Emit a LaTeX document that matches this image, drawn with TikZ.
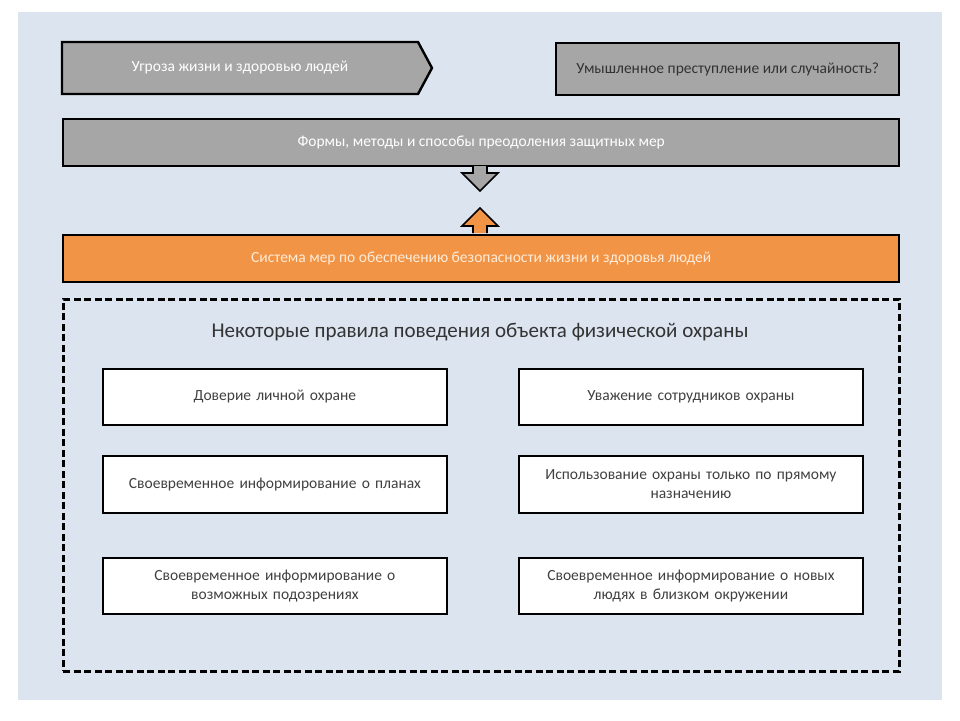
\documentclass[tikz,border=0pt]{standalone}
\usepackage{fontspec}
\setmainfont{Carlito}
\definecolor{bgpanel}{RGB}{220,228,240}
\definecolor{boxgray}{RGB}{166,166,166}
\definecolor{boxorange}{RGB}{242,148,70}
\begin{document}
\begin{tikzpicture}[x=1pt,y=-1pt,
  graybox/.style={draw=black,line width=2.4pt,fill=boxgray,text=white},
  orangebox/.style={draw=black,line width=2.4pt,fill=boxorange,text=white!85!orange},
  rulebox/.style={draw=black,line width=1.8pt,fill=white,text=black!75,align=center,font=\fontsize{15.5}{19}\selectfont},
  lbl/.style={font=\fontsize{15.5}{18}\selectfont}]
\useasboundingbox (0,0) rectangle (960,720);
\fill[white] (0,0) rectangle (960,720);
\fill[bgpanel] (18,12) rectangle (942,700);
% top pentagon arrow
\draw[graybox] (62,42) -- (418,42) -- (432,68) -- (418,94) -- (62,94) -- cycle;
\node[lbl,text=white] (threat) at (240,68) {Угроза жизни и здоровью людей};
\node[graybox,minimum width=343pt,minimum height=52pt,anchor=north west,inner sep=0pt,text=black!80,lbl] (intent) at (555,42) {Умышленное преступление или случайность?};
\node[graybox,minimum width=836pt,minimum height=47pt,anchor=north west,inner sep=0pt,lbl] (forms) at (62,118) {Формы, методы и способы преодоления защитных мер};
\node[orangebox,minimum width=836pt,minimum height=47pt,anchor=north west,inner sep=0pt,lbl] (system) at (62,234) {Система мер по обеспечению безопасности жизни и здоровья людей};
% block arrows
\draw[line width=1.6pt,fill=boxgray] (473,166) -- (473,173) -- (462,173) -- (480,191) -- (498,173) -- (487,173) -- (487,166);
\draw[line width=1.6pt,fill=boxorange] (473,233) -- (473,226) -- (462,226) -- (480,208) -- (498,226) -- (487,226) -- (487,233);
\node[draw=black,line width=2.6pt,dash pattern=on 7pt off 3.5pt,minimum width=836pt,minimum height=372pt,anchor=north west,inner sep=0pt] (rules) at (62,298) {};
\node[font=\fontsize{21}{24}\selectfont,text=black!80] (title) at (480,332) {Некоторые правила поведения объекта физической охраны};
\tikzset{rb/.style={rulebox,minimum width=344pt,minimum height=56pt,anchor=north west,inner sep=2pt,text width=330pt}}
\node[rb] (r1) at (102,368) {Доверие личной охране};
\node[rb] (r2) at (518,368) {Уважение сотрудников охраны};
\node[rb,minimum height=57pt] (r3) at (102,455) {Своевременное информирование о планах};
\node[rb,minimum height=57pt] (r4) at (518,455) {Использование охраны только по прямому\\назначению};
\node[rb] (r5) at (102,557) {Своевременное информирование о\\возможных подозрениях};
\node[rb] (r6) at (518,557) {Своевременное информирование о новых\\людях в близком окружении};
\end{tikzpicture}
\end{document}
